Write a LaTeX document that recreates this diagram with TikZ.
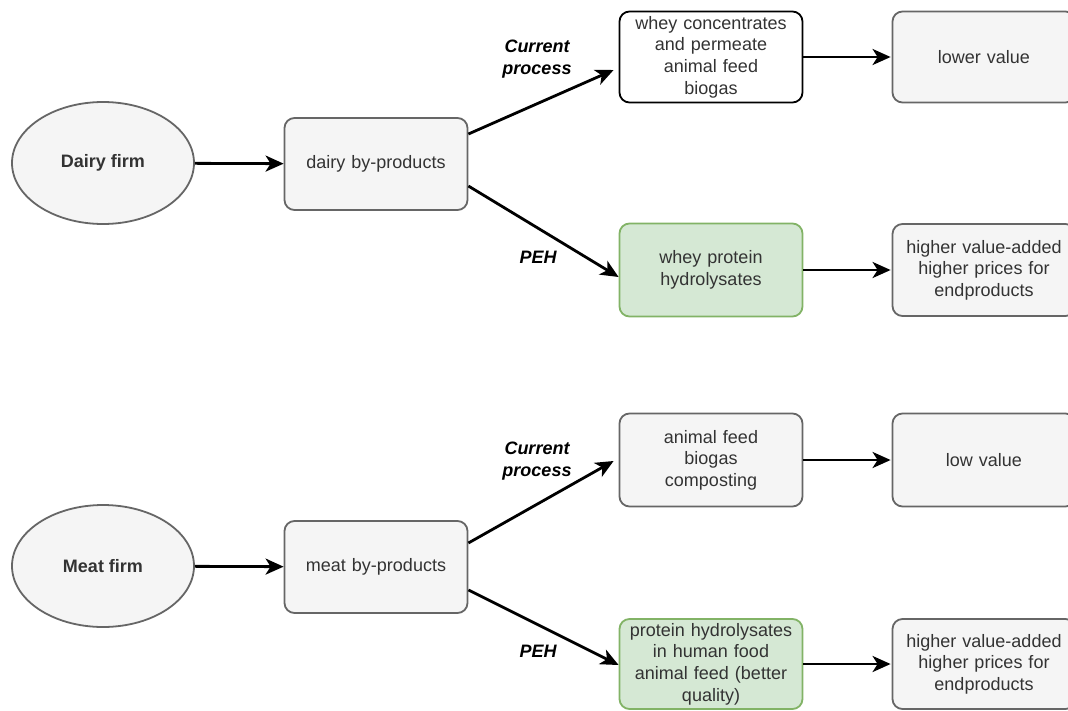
\documentclass[tikz,border=0pt]{standalone}
\usepackage{fontspec}
\setmainfont{Liberation Sans}
\usetikzlibrary{shapes.geometric,arrows.meta}
\definecolor{boxgray}{HTML}{F5F5F5}
\definecolor{linegray}{HTML}{666666}
\definecolor{boxgreen}{HTML}{D5E8D4}
\definecolor{linegreen}{HTML}{82B366}
\definecolor{txt}{HTML}{333333}
\newcommand\fsz{\fontsize{18}{21.6}\selectfont}
\tikzset{>={Stealth[length=18pt,width=16pt,inset=5pt]},
  firm/.style={ellipse,draw=linegray,fill=boxgray,line width=1.8pt,minimum width=182pt,minimum height=122pt,text=txt,font=\fsz\bfseries},
  gbox/.style={rectangle,rounded corners=10pt,draw=linegray,fill=boxgray,line width=1.8pt,minimum width=183pt,text width=175pt,align=center,inner sep=0pt,text=txt,font=\fsz},
  wbox/.style={gbox,draw=black,fill=white},
  pbox/.style={gbox,draw=linegreen,fill=boxgreen},
  lab/.style={font=\fsz\bfseries\itshape,align=center,text=black},
  arr/.style={->,line width=2.8pt}}

\begin{document}
\begin{tikzpicture}[x=1pt,y=-1pt]
\useasboundingbox (0,0) rectangle (1068,710);
\clip (0,0) rectangle (1068,710);
\node[firm] (dairy) at (103,163) {Dairy firm};
\node[gbox,minimum height=92pt] (dairyby) at (376,164) {dairy by-products};
\node[wbox,minimum height=91pt] (whey) at (711,57) {whey concentrates\\and permeate\\animal feed\\biogas};
\node[gbox,minimum height=91pt] (lower) at (984,57) {lower value};
\node[pbox,minimum height=93pt] (wph) at (711,270) {whey protein\\hydrolysates};
\node[gbox,minimum height=92pt] (high1) at (984,270) {higher value-added\\higher prices for\\endproducts};
\node[lab] (cur1) at (537,59) {Current\\process};
\node[lab] (peh1) at (538,257) {PEH};
\draw[arr] (dairy) -- (dairyby);
\draw[arr] ([yshift=30pt]dairyby.east) -- ([yshift=-13pt,xshift=-5pt]whey.west);
\draw[arr] ([yshift=-22pt]dairyby.east) -- ([yshift=-7pt]wph.west);
\draw[arr] (whey) -- ([xshift=-1pt]lower.west);
\draw[arr] (wph) -- ([xshift=-1pt]high1.west);

\node[firm] (meat) at (103,566) {Meat firm};
\node[gbox,minimum height=92pt] (meatby) at (376,567) {meat by-products};
\node[gbox,minimum height=93pt] (feed) at (711,460) {animal feed\\biogas\\composting};
\node[gbox,minimum height=93pt] (low) at (984,460) {low value};
\node[pbox,minimum height=90pt] (ph) at (711,664) {protein hydrolysates\\in human food\\animal feed (better\\quality)};
\node[gbox,minimum height=90pt] (high2) at (984,664) {higher value-added\\higher prices for\\endproducts};
\node[lab] (cur2) at (537,461) {Current\\process};
\node[lab] (peh2) at (538,651) {PEH};
\draw[arr] (meat) -- (meatby);
\draw[arr] ([yshift=24pt]meatby.east) -- ([yshift=-1pt,xshift=-5pt]feed.west);
\draw[arr] ([yshift=-23pt]meatby.east) -- ([yshift=-1pt]ph.west);
\draw[arr] (feed) -- ([xshift=-1pt]low.west);
\draw[arr] (ph) -- ([xshift=-1pt]high2.west);
\end{tikzpicture}
\end{document}
